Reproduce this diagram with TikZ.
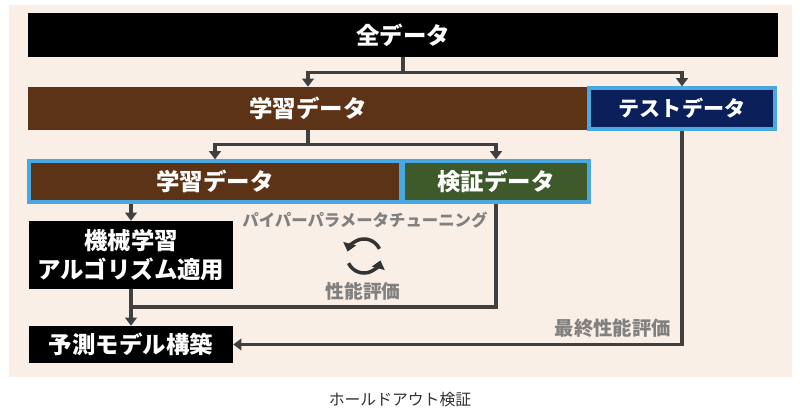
\documentclass[tikz,border=0pt]{standalone}
\usepackage{fontspec}
\setmainfont{Noto Sans CJK JP}
\usetikzlibrary{arrows.meta}

\definecolor{bgpeach}{HTML}{FAEFE6}
\definecolor{soilbrown}{HTML}{5C3317}
\definecolor{testnavy}{HTML}{0B1F5B}
\definecolor{validgreen}{HTML}{3E5A2B}
\definecolor{edgeblue}{HTML}{4AA8E0}
\definecolor{linegray}{HTML}{404040}
\definecolor{notegray}{HTML}{808080}
\definecolor{capgray}{HTML}{333333}

\newcommand{\pxu}{0.3mm}

\tikzset{
  box/.style={rectangle, inner sep=0pt, text=white, align=center,
    font=\bfseries\fontsize{20}{25}\selectfont},
  blueline/.style={draw=edgeblue, line width=2.8pt},
  link/.style={draw=linegray, line width=2.7pt},
  flow/.style={link, -{Triangle[width=10pt,length=7pt]}},
  note/.style={text=notegray, font=\bfseries\fontsize{14}{16}\selectfont},
  cycle/.style={draw=black!80, line width=3pt, -{Triangle[width=11pt,length=7pt]}},
}

\begin{document}
\begin{tikzpicture}[x=0.3mm, y=-0.3mm]
  % 背景
  \useasboundingbox (0,0) rectangle (800,417);
  \fill[white] (0,0) rectangle (800,417);
  \fill[bgpeach] (9,5) rectangle (792,377);

  % データの箱
  \node[box, fill=black, minimum width=750*\pxu, minimum height=44*\pxu] (all) at (403,35) {全データ};
  \node[box, fill=soilbrown, minimum width=560*\pxu, minimum height=43*\pxu] (learn) at (308,108.5) {学習データ};
  \node[box, blueline, fill=testnavy, minimum width=186*\pxu, minimum height=41*\pxu,
    font=\bfseries\fontsize{18}{22}\selectfont] (test) at (682,108.5) {テストデータ};
  \node[box, blueline, fill=soilbrown, minimum width=372*\pxu, minimum height=41*\pxu] (train) at (215,181.5) {学習データ};
  \node[box, blueline, fill=validgreen, minimum width=186*\pxu, minimum height=41*\pxu] (valid) at (496,181.5) {検証データ};

  % 機械学習と予測モデル
  \node[box, fill=black, minimum width=204*\pxu, minimum height=68*\pxu] (ml) at (131,255) {機械学習\\アルゴリズム適用};
  \node[box, fill=black, minimum width=204*\pxu, minimum height=37*\pxu] (pred) at (131,344.5) {予測モデル構築};

  % 分岐の矢印
  \path (all.south) ++(0,15) coordinate (fork1);
  \draw[link] (all.south) -- (fork1);
  \draw[flow] (fork1) -| (learn.north);
  \draw[flow] (fork1) -| (test.north);

  \path (learn.south) ++(0,14) coordinate (fork2);
  \draw[link] (learn.south) -- (fork2);
  \draw[flow] (fork2) -| (train.north);
  \draw[flow] (fork2) -| (valid.north);

  \draw[flow] (train.south -| ml.north) -- (ml.north);
  \draw[flow] (ml.south) -- (pred.north);

  % 検証データからの戻り
  \coordinate (join) at (ml.south |- 0,307);
  \draw[link] (valid.south) |- (join);

  % テストデータから予測モデルへ
  \draw[flow] (test.south) |- (pred.east);

  % チューニングの説明
  \node[note] (tune) at (365,220) {パイパーパラメータチューニング};
  \coordinate (cyc) at (364,256);
  \draw[cycle] ([shift={(-25:17)}]cyc) arc[start angle=-25, end angle=-165, radius=17];
  \draw[cycle] ([shift={(155:17)}]cyc) arc[start angle=155, end angle=15, radius=17];
  \node[note, font=\bfseries\fontsize{16}{18}\selectfont] (perf) at (363,291) {性能評価};

  \node[note, font=\bfseries\fontsize{16.5}{18}\selectfont, anchor=east] (final) at (675,328) {最終性能評価};

  % キャプション
  \node[text=capgray, font=\fontsize{13.5}{16}\selectfont] (cap) at (400,400) {ホールドアウト検証};
\end{tikzpicture}
\end{document}
